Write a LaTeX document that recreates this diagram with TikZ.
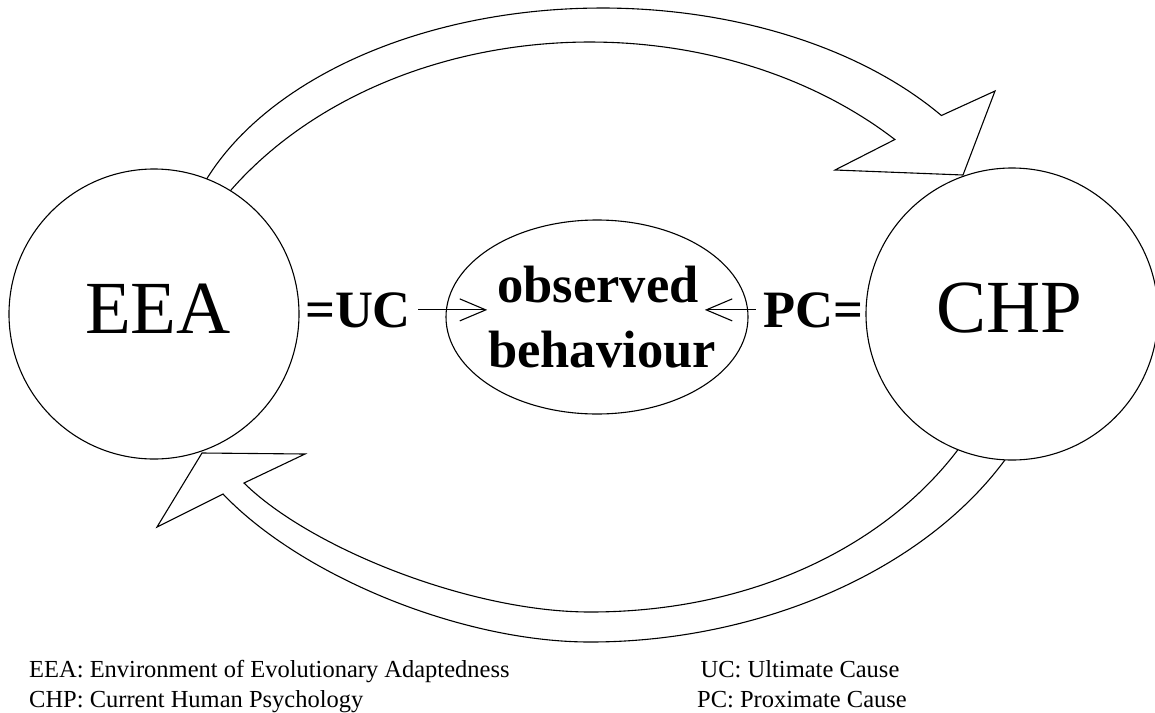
\documentclass[tikz,border=0pt]{standalone}
\usepackage{fontspec}
\setmainfont{Liberation Serif}
\usetikzlibrary{shapes.geometric,arrows.meta}
\begin{document}
\begin{tikzpicture}[x=1pt,y=-1pt]
\tikzset{
  blockarrow/.style={draw=black, fill=white, line width=1.1pt, line join=miter},
  bigcircle/.style={circle, draw=black, fill=white, line width=1.1pt, inner sep=0pt, minimum size=#1},
  bigtext/.style={font=\fontsize{75}{90}\selectfont, inner sep=0pt},
  midtext/.style={font=\bfseries\fontsize{52.5}{60}\selectfont, inner sep=0pt, anchor=base},
  legendtext/.style={font=\fontsize{24.5}{30}\selectfont, inner sep=0pt},
  causearrow/.style={-{Straight Barb[length=26pt,width=22pt]}, line width=1.1pt},
}
\fill[white] (0,0) rectangle (1155,712);
\useasboundingbox (0,0) rectangle (1155,712);

% top curved block arrow (EEA -> CHP)
\draw[blockarrow]
  plot[domain=162:37,samples=90] ({602+425*cos(\x)},{278-270*sin(\x)})
  -- (995,91) -- (963,175) -- (835,170)
  -- plot[domain=45.5:148.8,samples=90] ({590+435*cos(\x)},{382-340*sin(\x)})
  -- cycle;

% bottom curved block arrow (CHP -> EEA)
\draw[blockarrow]
  (1012,450) .. controls (930,570) and (760,642) .. (590,642)
  .. controls (460,642) and (300,575) .. (223,494)
  -- (157,527) -- (202,453) -- (305,454) -- (244,483)
  .. controls (310,548) and (470,612) .. (590,612)
  .. controls (760,612) and (895,540) .. (965,440)
  -- cycle;

% circles
\node[bigcircle=290pt] (eea) at (154,314) {};
\node[bigcircle=292pt] (chp) at (1012,314) {};
\node[bigtext] (eeat) at (158,309) {EEA};
\node[bigtext] (chpt) at (1009,308) {CHP};

% ellipse
\node[ellipse, draw=black, line width=1.1pt, minimum width=302pt, minimum height=194pt, inner sep=0pt] (ob) at (597,317) {};
\node[midtext] (obs1) at (598,302) {observed};
\node[midtext] (obs2) at (602,367) {behaviour};

\node[midtext] (uc) at (358,327) {=UC};
\node[midtext] (pc) at (813,327) {PC=};
\draw[causearrow] ([xshift=7pt]uc.east) -- ([xshift=-10pt]uc.east -| obs1.west);
\draw[causearrow] ([xshift=-7pt]pc.west) -- ([xshift=6pt]pc.west -| obs1.east);

% legend
\node[legendtext, anchor=base west] (l1) at (29,677) {EEA: Environment of Evolutionary Adaptedness};
\node[legendtext, anchor=base west] (l2) at (29,707) {CHP: Current Human Psychology};
\node[legendtext, anchor=base] (l3) at (800,677) {UC: Ultimate Cause};
\node[legendtext, anchor=base] (l4) at (802,707) {PC: Proximate Cause};
\end{tikzpicture}
\end{document}
